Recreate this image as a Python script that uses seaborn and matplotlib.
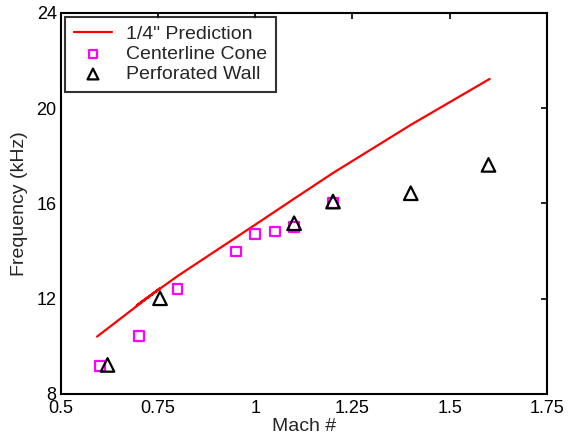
import matplotlib
matplotlib.use("Agg")
import matplotlib.pyplot as plt
import seaborn as sns
import pandas as pd

# Prediction line (note small back-track near Mach 0.7-0.76)
pred_mach = [0.593, 0.755, 0.695, 0.80, 0.95, 1.0, 1.1, 1.2, 1.4, 1.603]
pred_freq = [10.41, 12.44, 11.72, 12.95, 14.57, 15.11, 16.2, 17.28, 19.3, 21.23]

cone_mach = [0.60, 0.70, 0.80, 0.95, 1.00, 1.05, 1.10, 1.20]
cone_freq = [9.18, 10.45, 12.4, 13.98, 14.71, 14.82, 15.0, 16.01]

wall_mach = [0.62, 0.755, 1.10, 1.20, 1.40, 1.60]
wall_freq = [9.22, 12.02, 15.17, 16.08, 16.43, 17.62]

xticks = [0.5, 0.75, 1, 1.25, 1.5, 1.75]
xtick_labels = ["0.5", "0.75", "1", "1.25", "1.5", "1.75"]
yticks = [8, 12, 16, 20, 24]

sns.set_theme(style="white")
plt.rcParams['font.family'] = ['Liberation Sans', 'DejaVu Sans']

fig = plt.figure(figsize=(5.69, 4.47), dpi=100)
ax = fig.add_axes([0.107, 0.1186, 0.854, 0.8524])

pred_df = pd.DataFrame({"Mach": pred_mach, "Freq": pred_freq})
cone_df = pd.DataFrame({"Mach": cone_mach, "Freq": cone_freq})
wall_df = pd.DataFrame({"Mach": wall_mach, "Freq": wall_freq})

sns.lineplot(data=pred_df, x="Mach", y="Freq", sort=False, estimator=None,
             color="#ff0000", linewidth=1.6, ax=ax, label='1/4" Prediction')
sns.scatterplot(data=cone_df, x="Mach", y="Freq", marker="s", s=50,
                fc="none", ec="#ff00ff", linewidth=1.6, ax=ax,
                label="Centerline Cone", zorder=3)
sns.scatterplot(data=wall_df, x="Mach", y="Freq", marker="^", s=95,
                fc="none", ec="black", linewidth=1.6, ax=ax,
                label="Perforated Wall", zorder=4)

ax.set_xlim(0.5, 1.75)
ax.set_ylim(8, 24)
ax.set_xticks(xticks)
ax.set_xticklabels(xtick_labels)
ax.set_yticks(yticks)
ax.tick_params(direction="in", length=4, width=1.2, top=True, right=True,
               labelsize=13, colors="black")
ax.tick_params(axis="x", pad=4)
ax.tick_params(axis="y", pad=3)
for s in ax.spines.values():
    s.set_color("black")
    s.set_linewidth(1.5)

ax.set_xlabel("Mach #", fontsize=14, labelpad=1)
ax.set_ylabel("Frequency (kHz)", fontsize=14, labelpad=6)

leg = ax.legend(loc="upper left", fontsize=14, frameon=True, fancybox=False,
                edgecolor="black", borderaxespad=0.2, handlelength=2.0,
                labelspacing=0.12, borderpad=0.45, handletextpad=0.7,
                markerscale=0.8)
leg.get_frame().set_linewidth(1.5)

fig.savefig("out.png", dpi=100, facecolor="white")
